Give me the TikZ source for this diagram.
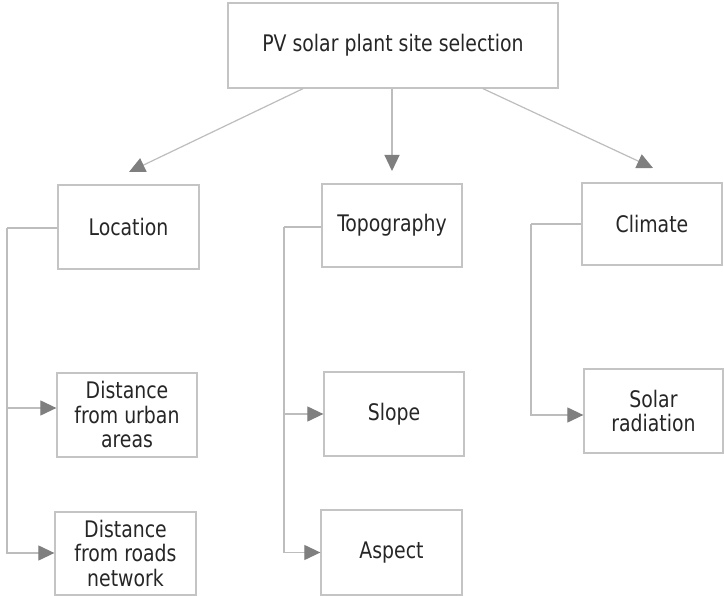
\documentclass[tikz,border=0pt]{standalone}
\usepackage{fontspec}
\setmainfont[FakeStretch=0.92]{DejaVu Sans Condensed}
\usetikzlibrary{arrows.meta}
\definecolor{boxline}{HTML}{C4C4C4}
\definecolor{conline}{HTML}{BDBDBD}
\definecolor{tipgray}{HTML}{7F7F7F}
\definecolor{txt}{HTML}{262626}
\tikzset{
  box/.style={draw=boxline, line width=1.3pt, fill=white, text=txt, align=center,
    font=\fontsize{22.8}{24.5}\selectfont, inner sep=0pt},
  conn/.style={draw=conline, line width=1.2pt,
    -{Triangle[length=16pt,width=15pt,color=tipgray,fill=tipgray]}},
  plain/.style={draw=conline, line width=1.2pt}
}
\begin{document}
\begin{tikzpicture}[x=1pt,y=-1pt]
\useasboundingbox (0,0) rectangle (724,596);
\fill[white] (0,0) rectangle (724,596);
% boxes
\node[box, minimum width=330pt, minimum height=85pt] (top) at (393,45.5) {PV solar plant site selection};
\node[box, minimum width=141pt, minimum height=84pt] (loc) at (128.5,227) {Location};
\node[box, minimum width=140pt, minimum height=83pt] (topo) at (392,225.5) {Topography};
\node[box, minimum width=140pt, minimum height=82pt] (clim) at (652,224) {Climate};
\node[box, minimum width=140pt, minimum height=84pt] (urban) at (127,415) {Distance\\from urban\\areas};
\node[box, minimum width=141pt, minimum height=83pt] (roads) at (125.5,553.5) {Distance\\from roads\\network};
\node[box, minimum width=140pt, minimum height=84pt] (slope) at (394,414) {Slope};
\node[box, minimum width=141pt, minimum height=85pt] (aspect) at (391.5,552.5) {Aspect};
\node[box, minimum width=139pt, minimum height=84pt] (solar) at (653.5,411) {Solar\\radiation};
% top arrows
\coordinate (tl) at (129,172);
\coordinate (tm) at (392,171);
\coordinate (tr) at (653,168);
\draw[conn] ([xshift=-90pt]top.south) -- (tl);
\draw[conn] ([xshift=-1pt]top.south) -- (tm);
\draw[conn] ([xshift=90pt]top.south) -- (tr);
% location branch
\coordinate (lv) at (7,228);
\coordinate (ua) at ([yshift=7pt]urban.west);
\coordinate (ra) at ([yshift=0.5pt]roads.west);
\draw[plain] ([yshift=-1pt]loc.west) -- (lv);
\draw[conn] (lv) |- (ra);
\draw[conn] (lv |- ua) -- (ua);
% topography branch
\coordinate (tv) at (284,227);
\draw[plain] ([yshift=-1.5pt]topo.west) -- (tv);
\draw[conn] (tv) |- (aspect.west);
\draw[conn] (tv |- slope.west) -- (slope.west);
% climate branch
\coordinate (cv) at (531,224);
\coordinate (sa) at ([yshift=-4pt]solar.west);
\draw[plain] (clim.west) -- (cv);
\draw[conn] (cv) |- (sa);
\end{tikzpicture}
\end{document}
